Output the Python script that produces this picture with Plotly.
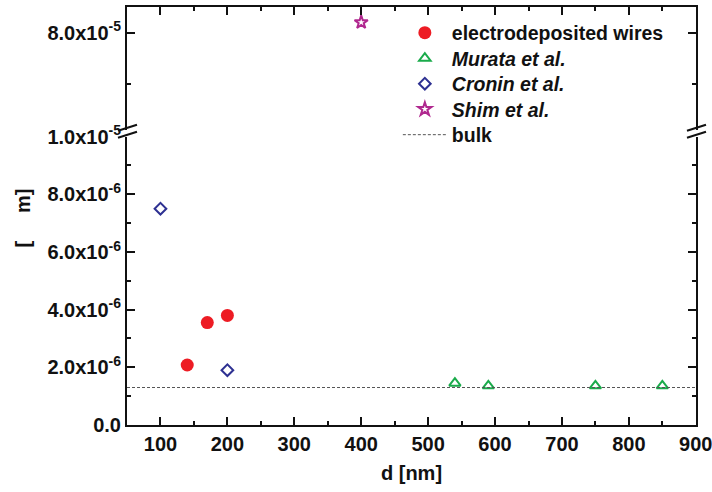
import plotly.graph_objects as go

# ---- data ----
elec_d = [140, 170, 200]
elec_rho = [2.08e-6, 3.55e-6, 3.80e-6]

murata_d = [540, 590, 750, 850]
murata_rho = [1.45e-6, 1.36e-6, 1.36e-6, 1.36e-6]

cronin_d = [100, 200]
cronin_rho = [7.5e-6, 1.9e-6]

shim_d = [400]
shim_rho = [8.4e-5]

bulk_rho = 1.3e-6

x_range = [50, 900.3]
y_low_range = [0, 1.0e-5]
y_high_range = [4.2e-5, 9.0e-5]

x_tickvals = [100, 200, 300, 400, 500, 600, 700, 800, 900]
low_tickvals = [0, 2e-6, 4e-6, 6e-6, 8e-6, 1e-5]
low_ticktext = ["0.0", "2.0x10<sup>-6</sup>", "4.0x10<sup>-6</sup>",
                "6.0x10<sup>-6</sup>", "8.0x10<sup>-6</sup>", "1.0x10<sup>-5</sup>"]
high_tickvals = [8e-5]
high_ticktext = ["8.0x10<sup>-5</sup>"]

FONT = "Liberation Sans, Arial, sans-serif"
BLACK = "#111111"

# plot-area geometry used to place the legend rows
PLOT_TOP_PX, PLOT_H_PX = 7, 418
def row_y(px_from_top):
    return 1 - (px_from_top - PLOT_TOP_PX) / PLOT_H_PX

LEG_X = 0.476
legend_rows = [33, 58.5, 84, 109.5, 135]

fig = go.Figure()

fig.add_trace(go.Scatter(
    x=elec_d, y=elec_rho, mode="markers", name="electrodeposited wires",
    marker=dict(symbol="circle", size=13, color="#ed1c24"),
    xaxis="x", yaxis="y", legend="legend"))
fig.add_trace(go.Scatter(
    x=murata_d, y=murata_rho, mode="markers", name="<i>Murata et al.</i>",
    marker=dict(symbol="triangle-up-open", size=10, color="#1aab4b",
                line=dict(width=2, color="#1aab4b")),
    xaxis="x", yaxis="y", legend="legend2"))
fig.add_trace(go.Scatter(
    x=cronin_d, y=cronin_rho, mode="markers", name="<i>Cronin et al.</i>",
    marker=dict(symbol="diamond-open", size=9, color="#2e3192",
                line=dict(width=2, color="#2e3192")),
    xaxis="x", yaxis="y", legend="legend3"))
fig.add_trace(go.Scatter(
    x=shim_d, y=shim_rho, mode="markers", name="<i>Shim et al.</i>",
    marker=dict(symbol="star-open", size=10, color="#b0288f",
                line=dict(width=2, color="#b0288f")),
    xaxis="x2", yaxis="y2", legend="legend4"))
fig.add_trace(go.Scatter(
    x=x_range, y=[bulk_rho, bulk_rho], mode="lines", name="bulk",
    line=dict(color="#555555", width=1, dash="3px,2px"),
    xaxis="x", yaxis="y", legend="legend5"))

axis_common = dict(
    showline=True, linecolor=BLACK, linewidth=2,
    ticks="inside", tickcolor=BLACK, tickwidth=2, ticklen=8,
    showgrid=False, zeroline=False, automargin=False,
    ticklabeloverflow="allow",
    tickfont=dict(family=FONT, size=20, color=BLACK, weight="bold"),
)
minor_common = dict(ticklen=4, tickwidth=2, tickcolor=BLACK, ticks="inside")


def legend_box(row_px):
    return dict(
        x=LEG_X, y=row_y(row_px), xanchor="left", yanchor="middle",
        bgcolor="rgba(0,0,0,0)", borderwidth=0, itemwidth=44,
        font=dict(family=FONT, size=19.5, color=BLACK, weight="bold"),
    )


LOW_TOP = 0.690
HIGH_BOT = 0.706

fig.update_layout(
    width=712, height=492,
    margin=dict(l=127, r=16, t=PLOT_TOP_PX, b=67, autoexpand=False),
    paper_bgcolor="white", plot_bgcolor="white",
    showlegend=True,
    legend=legend_box(legend_rows[0]),
    legend2=legend_box(legend_rows[1]),
    legend3=legend_box(legend_rows[2]),
    legend4=legend_box(legend_rows[3]),
    legend5=legend_box(legend_rows[4]),
    xaxis=dict(
        **axis_common, range=x_range, anchor="y",
        tickvals=x_tickvals,
        minor=dict(dtick=50, **minor_common),
        title=dict(text="d [nm]", standoff=12,
                   font=dict(family=FONT, size=20, color=BLACK, weight="bold")),
    ),
    xaxis2=dict(
        **axis_common, range=x_range, anchor="y2", side="top", matches="x",
        overlaying="x", showticklabels=False,
        tickvals=x_tickvals,
        minor=dict(dtick=50, **minor_common),
    ),
    yaxis=dict(
        **axis_common, range=y_low_range, domain=[0, LOW_TOP], anchor="x",
        mirror="ticks",
        tickvals=low_tickvals, ticktext=low_ticktext,
        minor=dict(tickvals=[1e-6, 3e-6, 5e-6, 7e-6, 9e-6], **minor_common),
    ),
    yaxis2=dict(
        **axis_common, range=y_high_range, domain=[HIGH_BOT, 1], anchor="x2",
        mirror="ticks",
        tickvals=high_tickvals, ticktext=high_ticktext,
        minor=dict(tickvals=[6e-5], **minor_common),
    ),
)

# axis-break marks on both vertical axes
brk_y = (LOW_TOP + HIGH_BOT) / 2
for xa in (0, 1):
    for (y0, y1) in ((2.5, 8.5), (-4.5, 1.5)):
        fig.add_shape(
            type="line", xref="paper", yref="paper",
            xsizemode="pixel", ysizemode="pixel",
            xanchor=xa, yanchor=brk_y,
            x0=-9, x1=10, y0=y0, y1=y1,
            line=dict(color=BLACK, width=2),
        )

# y-axis title
fig.add_annotation(
    text="[     m]", xref="paper", yref="paper", x=-0.205, y=0.495,
    showarrow=False, textangle=-90,
    font=dict(family=FONT, size=20, color=BLACK, weight="bold"),
)

fig.write_html("out.html")
